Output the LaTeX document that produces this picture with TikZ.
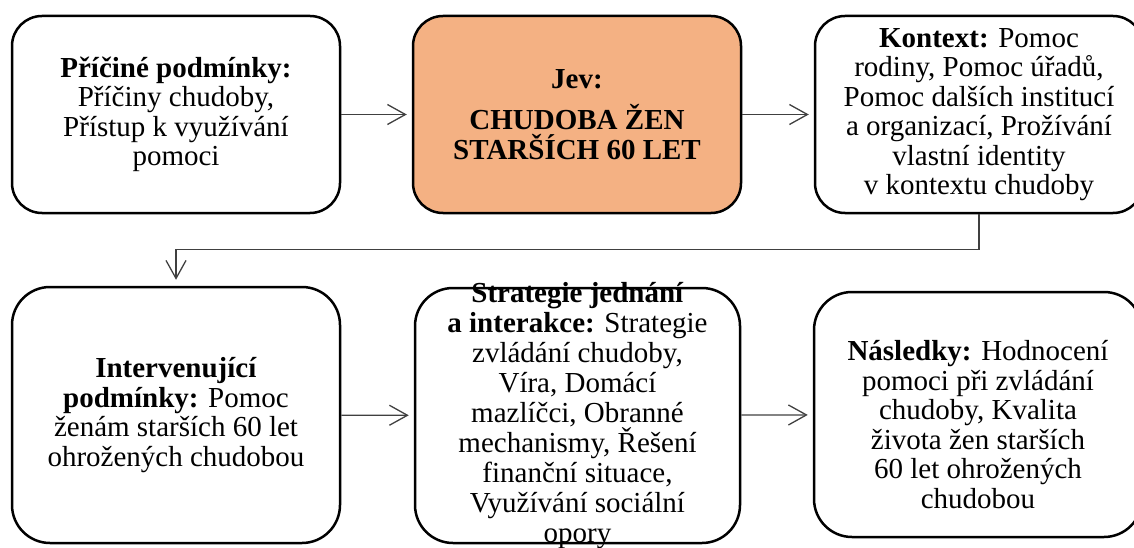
\documentclass[tikz,border=0pt]{standalone}
\usepackage{fontspec}
\setmainfont{Liberation Serif}
\usetikzlibrary{positioning,arrows.meta}
\definecolor{jevfill}{HTML}{F4B183}

\begin{document}
\begin{tikzpicture}[x=1pt, y=-1pt, font=\fontsize{29}{29.5}\selectfont,
  box/.style={draw, line width=2.5pt, align=center, inner sep=0pt, minimum width=328pt},
  toprow/.style={box, rounded corners=30pt, minimum height=197pt},
  botrow/.style={box, rounded corners=38pt},
  txt/.style={align=center, inner sep=0pt},
  conn/.style={draw=black!75, line width=1.3pt, shorten >=5pt},
  >={Straight Barb[length=18pt,width=20pt,line width=1.3pt]}]
\useasboundingbox (0,0) rectangle (1134,548);
% horni rada
\node[toprow] (pric) at (176,114.5) {\textbf{Příčiné podmínky:}\\Příčiny chudoby,\\Přístup k využívání\\pomoci};
\node[toprow, fill=jevfill] (jev) at (577,114.5) {\textbf{Jev:}\\[12pt]\textbf{CHUDOBA ŽEN}\\\textbf{STARŠÍCH 60 LET}};
\node[toprow] (kont) at (979,114.5) {\textbf{Kontext:} Pomoc\\rodiny, Pomoc úřadů,\\Pomoc dalších institucí\\a organizací, Prožívání\\vlastní identity\\v kontextu chudoby};
% dolni rada
\node[botrow, minimum height=256pt] (interv) at (176,415) {\textbf{Intervenující}\\\textbf{podmínky:} Pomoc\\ženám starších 60 let\\ohrožených chudobou};
\node[botrow, minimum width=325pt, minimum height=255pt] (strat) at (577.5,415.5) {};
\node[txt, font=\fontsize{29}{30}\selectfont] (strattxt) at (strat.center) {\textbf{Strategie jednání}\\\textbf{a interakce:} Strategie\\zvládání chudoby,\\Víra, Domácí\\mazlíčci, Obranné\\mechanismy, Řešení\\finanční situace,\\Využívání sociální\\opory};
\node[botrow, minimum height=245pt] (nasl) at (978,414.5) {};
\node[txt] (nasltxt) at ([yshift=-10pt]nasl.center) {\textbf{Následky:} Hodnocení\\pomoci při zvládání\\chudoby, Kvalita\\života žen starších\\60 let ohrožených\\chudobou};
% sipky
\draw[conn, ->] (pric) -- (jev);
\draw[conn, ->] (jev) -- (kont);
\draw[conn, ->, shorten >=6pt] (kont.south) -- ++(0,35) -| (interv.north);
\draw[conn, ->] (interv) -- (strat);
\draw[conn, ->] (strat) -- (nasl);
\end{tikzpicture}
\end{document}
